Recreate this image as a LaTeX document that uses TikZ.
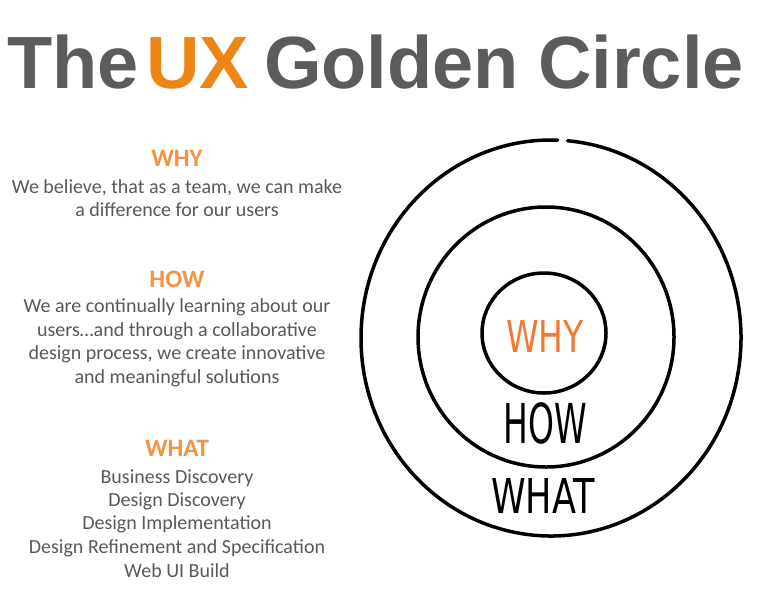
\documentclass[tikz,border=0pt]{standalone}
\usepackage{fontspec}
\setmainfont{Carlito}
\newfontfamily\titlefont{Liberation Sans}
\newfontfamily\handfont{DejaVu Sans}
\usetikzlibrary{shapes.geometric}
\definecolor{titlegray}{RGB}{92,92,92}
\definecolor{uxorange}{RGB}{238,134,22}
\definecolor{headorange}{RGB}{242,148,68}
\definecolor{bodygray}{RGB}{89,89,89}
\definecolor{whyorange}{RGB}{240,122,50}
\tikzset{
  titletext/.style={anchor=base west, inner sep=0pt, font=\titlefont\bfseries\fontsize{74}{74}\selectfont, text=titlegray},
  headtext/.style={anchor=base, inner sep=0pt, font=\bfseries\fontsize{25}{25}\selectfont, text=headorange},
  bodytext/.style={anchor=base, inner sep=0pt, font=\fontsize{20}{24}\selectfont, text=bodygray},
  ring/.style={draw=black, line width=3.5pt, ellipse, inner sep=0pt},
  handtext/.style={anchor=base, inner sep=0pt}
}
\begin{document}
\begin{tikzpicture}[x=1pt,y=-1pt]
\useasboundingbox (0,0) rectangle (767,600);
\fill[white] (0,0) rectangle (767,600);
% title
\node[titletext] (tThe) at (7,88) {The};
\node[titletext, text=uxorange] (tUX) at (146,88) {UX};
\node[titletext] (tGolden) at (264,88) {Golden};
\node[titletext] (tCircle) at (538,88) {Circle};
% WHY section
\node[headtext] (hWhy) at (177,166) {WHY};
\node[bodytext] (bWhy1) at (177,193) {We believe, that as a team, we can make};
\node[bodytext] (bWhy2) at (177,216) {a difference for our users};
% HOW section
\node[headtext] (hHow) at (177,287) {HOW};
\node[bodytext] (bHow1) at (177,312) {We are continually learning about our};
\node[bodytext] (bHow2) at (177,336) {users\ldots and through a collaborative};
\node[bodytext] (bHow3) at (177,359) {design process, we create innovative};
\node[bodytext] (bHow4) at (177,383) {and meaningful solutions};
% WHAT section
\node[headtext] (hWhat) at (177,456) {WHAT};
\node[bodytext] (bWhat1) at (177,483) {Business Discovery};
\node[bodytext] (bWhat2) at (177,506) {Design Discovery};
\node[bodytext] (bWhat3) at (177,529) {Design Implementation};
\node[bodytext] (bWhat4) at (177,553) {Design Refinement and Specification};
\node[bodytext] (bWhat5) at (177,577) {Web UI Build};
% circles
\coordinate (oc) at (551,338);
\draw[line width=3.5pt, line cap=round] (oc) ++(-85:190 and 198) arc[start angle=-85, end angle=272, x radius=190, y radius=198];
\node[ring, minimum width=256pt, minimum height=260pt] (mid) at (546,337) {};
\node[ring, minimum width=124pt, minimum height=120pt] (inner) at (544,333) {};
% circle labels
\node[handtext, text=whyorange] (cWhy) at (545,352) {\handfont\fontsize{44}{44}\selectfont\scalebox{0.75}[1]{WHY}};
\node[handtext, text=black] (cHow) at (545,443) {\handfont\fontsize{55}{55}\selectfont\scalebox{0.6}[1]{HOW}};
\node[handtext, text=black] (cWhat) at (543,513) {\handfont\fontsize{48}{48}\selectfont\scalebox{0.73}[1]{WHAT}};
\end{tikzpicture}
\end{document}
